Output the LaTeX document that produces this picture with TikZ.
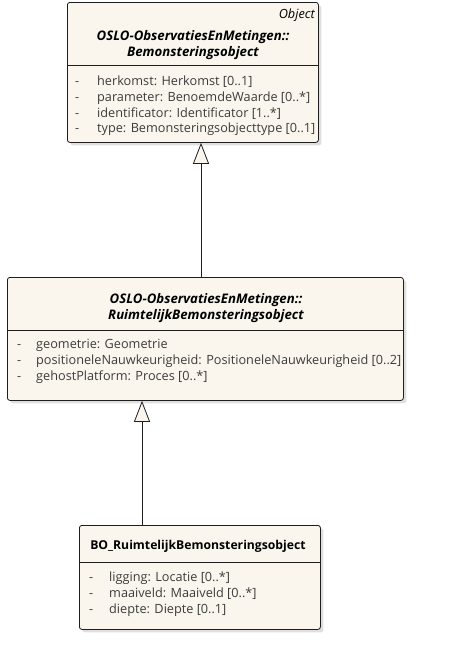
\documentclass[tikz,border=0pt]{standalone}
\usepackage{fontspec}
\setmainfont{Open Sans}
\usepackage{tikz}
\usetikzlibrary{arrows.meta,positioning,calc,shadows}
\definecolor{Box}{RGB}{250,246,238}
\definecolor{Attr}{RGB}{60,60,60}
\definecolor{Edge}{RGB}{30,30,30}

\begin{document}
\begin{tikzpicture}[
    x=1pt, y=-1pt,
    every node/.style={font={\fontsize{12.7}{15.8}\selectfont}},
    umlclass/.style={draw=Edge, fill=Box, rectangle, rounded corners=2.5pt,
      line width=0.8pt, anchor=north west, inner sep=0pt,
      drop shadow={shadow xshift=3pt, shadow yshift=-3pt, opacity=0.25}},
    classname/.style={align=center, inner sep=0pt},
    abstractname/.style={classname, font={\fontsize{13.2}{16}\selectfont\bfseries\itshape}},
    stereo/.style={anchor=east, inner sep=0pt, font={\fontsize{12.7}{15.8}\selectfont\itshape}},
    attrs/.style={anchor=north west, inner sep=0pt, text=Attr},
    sep/.style={draw=Edge, line width=0.8pt},
    inherit/.style={-{Triangle[width=16pt,length=21pt,fill=Box]}, draw=Edge, line width=0.8pt}
  ]

  \useasboundingbox (0,0) rectangle (452,653);

  \node[umlclass, minimum width=251pt, minimum height=140pt] (obj) at (67,2) {};
  \node[umlclass, minimum width=396pt, minimum height=123pt] (ruim) at (7,277) {};
  \node[umlclass, minimum width=241pt, minimum height=104pt] (bo) at (79,525) {};

  \coordinate (objsep) at (0,65);
  \coordinate (ruimsep) at (0,330);
  \coordinate (bosep) at (0,562);
  \draw[sep] (obj.west |- objsep) -- (obj.east |- objsep);
  \draw[sep] (ruim.west |- ruimsep) -- (ruim.east |- ruimsep);
  \draw[sep] (bo.west |- bosep) -- (bo.east |- bosep);

  \node[stereo] (objstereo) at (315,15) {Object};
  \node[abstractname] (objname) at (193,45)
  {OSLO-ObservatiesEnMetingen::\\Bemonsteringsobject};
  \node[attrs] (objattrs) at (75,74.3) {%
    \begin{tabular}{@{}p{22pt}@{}l@{}}
      - & herkomst: Herkomst [0..1]\\
      - & parameter: BenoemdeWaarde [0..*]\\
      - & identificator: Identificator [1..*]\\
      - & type: Bemonsteringsobjecttype [0..1]
    \end{tabular}};

  \node[abstractname] (ruimname) at (206,308)
  {OSLO-ObservatiesEnMetingen::\\RuimtelijkBemonsteringsobject};
  \node[attrs] (ruimattrs) at (17,337.3) {%
    \begin{tabular}{@{}p{19pt}@{}l@{}}
      - & geometrie: Geometrie\\
      - & positioneleNauwkeurigheid: PositioneleNauwkeurigheid [0..2]\\
      - & gehostPlatform: Proces [0..*]
    \end{tabular}};

  \node[classname, font={\fontsize{12.2}{15.8}\selectfont\bfseries}] (boname) at (198,546)
  {BO\_RuimtelijkBemonsteringsobject};
  \node[attrs] (boattrs) at (89,570.3) {%
    \begin{tabular}{@{}p{20pt}@{}l@{}}
      - & ligging: Locatie [0..*]\\
      - & maaiveld: Maaiveld [0..*]\\
      - & diepte: Diepte [0..1]
    \end{tabular}};

  \coordinate (gen1) at (201,0);
  \coordinate (gen2) at (142,0);
  \draw[inherit] (ruim.north -| gen1) -- (obj.south -| gen1);
  \draw[inherit] (bo.north -| gen2) -- (ruim.south -| gen2);
\end{tikzpicture}
\end{document}
